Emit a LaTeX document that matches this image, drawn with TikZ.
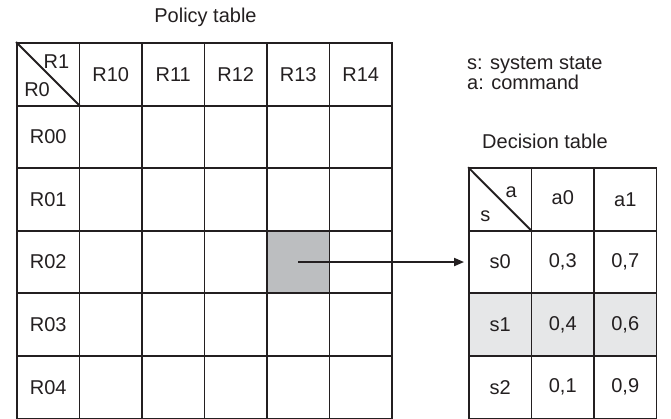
\documentclass[tikz,border=0pt]{standalone}
\usepackage{fontspec}
\setmainfont{Liberation Sans}
\usetikzlibrary{arrows.meta}
\definecolor{linecol}{HTML}{231F20}
\definecolor{cellgray}{HTML}{BCBEC0}
\definecolor{rowgray}{HTML}{E6E7E8}
\tikzset{
  cell/.style={draw=linecol, line width=1.9pt, minimum width=62.5pt,
    minimum height=62.58pt, inner sep=0pt, text=linecol},
  caption/.style={inner sep=0pt, text=linecol},
  link/.style={draw=linecol, line width=1.9pt, -{Triangle[length=10pt,width=8pt]}}
}
\begin{document}
\begin{tikzpicture}[x=1pt, y=-1pt, font=\fontsize{20}{20}\selectfont]
  \useasboundingbox (0,0) rectangle (671,419);
  % policy table
  \node[cell] (p-0-0) at (48.25,74.29) {};
  \foreach \t [count=\c] in {R10,R11,R12,R13,R14}
    \node[cell] (p-0-\c) at ({48.25+62.5*\c},74.29) {\t};
  \foreach \t [count=\r] in {R00,R01,R02,R03,R04}
    \node[cell] (p-\r-0) at (48.25,{74.29+62.58*\r}) {\t};
  \foreach \r in {1,...,5}{
    \foreach \c in {1,...,5}
    \node[cell] (p-\r-\c) at ({48.25+62.5*\c},{74.29+62.58*\r}) {};
  }
  \node[cell, fill=cellgray] at (p-3-4) {};
  \draw[linecol, line width=1.9pt] (p-0-0.north west) -- (p-0-0.south east);
  \node[caption, anchor=north east] at ([shift={(-11,12)}]p-0-0.north east) {R1};
  \node[caption, anchor=base west] at ([shift={(8,-10)}]p-0-0.south west) {R0};
  \node[caption, anchor=base] (ptitle) at (205.5,23) {Policy table};
  % decision table
  \node[cell] (d-0-0) at (500.25,199.45) {};
  \node[cell] (d-0-1) at (562.75,199.45) {\raisebox{4pt}{a0}};
  \node[cell] (d-0-2) at (625.25,199.45) {\raisebox{-2pt}{a1}};
  \foreach \s/\p/\q/\f [count=\r] in {s0/{0,3}/{0,7}/white, s1/{0,4}/{0,6}/rowgray, s2/{0,1}/{0,9}/white}{
    \node[cell, fill=\f] (d-\r-0) at (500.25,{199.45+62.58*\r}) {\s};
    \node[cell, fill=\f] (d-\r-1) at (562.75,{199.45+62.58*\r}) {\p};
    \node[cell, fill=\f] (d-\r-2) at (625.25,{199.45+62.58*\r}) {\q};
  }
  \draw[linecol, line width=1.9pt] (d-0-0.north west) -- (d-0-0.south east);
  \node[caption, anchor=base east] at ([shift={(-15.5,30)}]d-0-0.north east) {a};
  \node[caption, anchor=base west] at ([shift={(12,-9.8)}]d-0-0.south west) {s};
  \node[caption, anchor=base west] (dtitle) at (482,149) {Decision table};
  % legend
  \node[caption, anchor=base west] (lstate) at (467,70) {s: system state};
  \node[caption, anchor=base west] (lcmd) at (467,90) {a: command};
  % lookup arrow
  \draw[link, shorten >=4pt] (p-3-4.center) -- (d-1-0.west);
\end{tikzpicture}
\end{document}
